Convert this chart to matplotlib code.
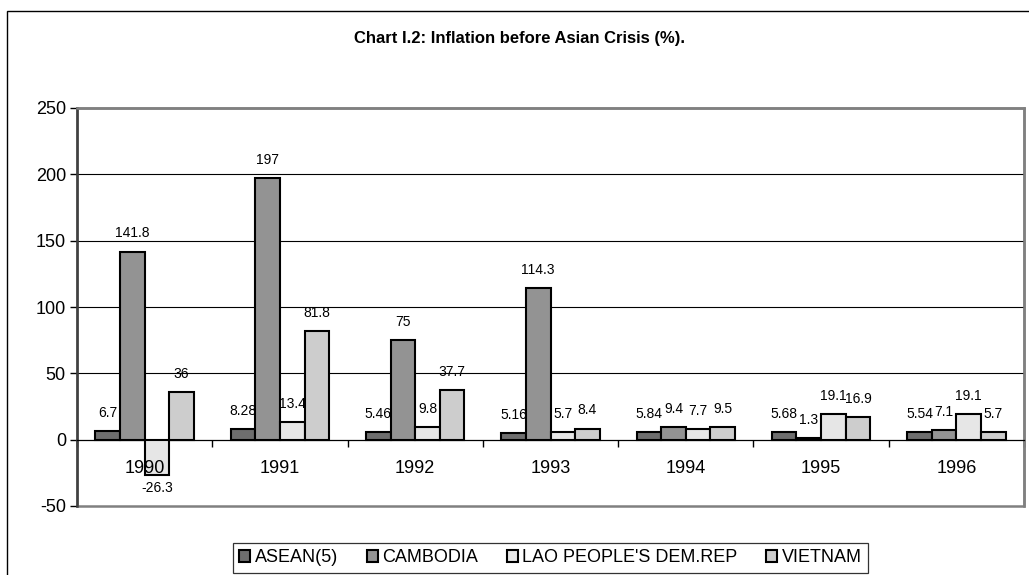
import numpy as np
import matplotlib
matplotlib.use("Agg")
import matplotlib.pyplot as plt
from matplotlib.patches import Rectangle

# Data
years = ["1990", "1991", "1992", "1993", "1994", "1995", "1996"]
asean = [6.7, 8.28, 5.46, 5.16, 5.84, 5.68, 5.54]
cambodia = [141.8, 197, 75, 114.3, 9.4, 1.3, 7.1]
lao = [-26.3, 13.4, 9.8, 5.7, 7.7, 19.1, 19.1]
vietnam = [36, 81.8, 37.7, 8.4, 9.5, 16.9, 5.7]
series_names = ["ASEAN(5)", "CAMBODIA", "LAO PEOPLE'S DEM.REP", "VIETNAM"]
yticks = [-50, 0, 50, 100, 150, 200, 250]

plt.rcParams["font.family"] = ["Liberation Sans", "DejaVu Sans"]

fig = plt.figure(figsize=(10.29, 5.75), dpi=100)
W, H = 1029, 575

# outer chart frame (cut at right and bottom like the original)
fig.patches.append(Rectangle((7 / W, -0.1), 2.0, (H - 11) / H + 0.1,
                             transform=fig.transFigure, fill=False,
                             edgecolor="black", lw=1.0))

fig.text(520 / W, 1 - 39 / H, "Chart I.2: Inflation before Asian Crisis (%).",
         ha="center", va="center", fontsize=12, fontweight="bold")

ax = fig.add_axes([77 / W, 1 - 506 / H, (1024 - 77) / W, (506 - 108) / H])

x = np.arange(len(years))
w = 1 / 5.5
colors = ["#6e6e6e", "#939393", "#e6e6e6", "#cdcdcd"]
all_series = [asean, cambodia, lao, vietnam]

bars = []
for k, (vals, name, c) in enumerate(zip(all_series, series_names, colors)):
    b = ax.bar(x + (k - 1.5) * w, vals, width=w, color=c, edgecolor="black",
               linewidth=1.5, label=name, zorder=3)
    bars.append(b)
    for xi, v in zip(x + (k - 1.5) * w, vals):
        off = 13 if v >= 0 else -10
        ax.annotate(f"{v:g}", xy=(xi, v), xytext=(0, off),
                    textcoords="offset points", ha="center", va="center",
                    fontsize=10, zorder=4)

ax.set_xlim(-0.5, len(years) - 0.5)
ax.set_ylim(-50, 250)
ax.set_yticks(yticks)
ax.set_yticklabels([str(t) for t in yticks], fontsize=13)
ax.tick_params(axis="y", length=5, width=1, pad=3)

# gridlines
for t in yticks[2:-1]:
    ax.axhline(t, color="black", lw=0.8, zorder=1)

# category boundary ticks on the zero line
ax.spines["bottom"].set_position(("data", 0))
ax.spines["bottom"].set_color("black")
ax.spines["bottom"].set_linewidth(0.9)
ax.set_xticks(np.arange(-0.5, len(years), 1.0))
ax.set_xticklabels([])
ax.tick_params(axis="x", length=5, width=1, direction="out")

for xi, yr in zip(x, years):
    ax.annotate(yr, xy=(xi, 0), xytext=(0, -21), textcoords="offset points",
                ha="center", va="center", fontsize=13, zorder=5)

for s in ["top", "right"]:
    ax.spines[s].set_color("#808080")
    ax.spines[s].set_linewidth(1.8)
ax.spines["left"].set_color("#404040")
ax.spines["left"].set_linewidth(1.8)
ax.add_patch(Rectangle((0, 0), 1, 1, transform=ax.transAxes, fill=False,
                       edgecolor="#808080", lw=1.8, clip_on=False, zorder=0.5))

leg = fig.legend(handles=bars, labels=series_names, loc="upper left",
                 bbox_to_anchor=(233 / W, 1 - 543 / H), ncol=4, fontsize=13,
                 frameon=True, fancybox=False, handlelength=0.6,
                 handleheight=0.6, handletextpad=0.25, columnspacing=1.6,
                 borderpad=0.35, borderaxespad=0)
leg.get_frame().set_edgecolor("black")
leg.get_frame().set_linewidth(0.9)

fig.savefig("out.png", dpi=100)
